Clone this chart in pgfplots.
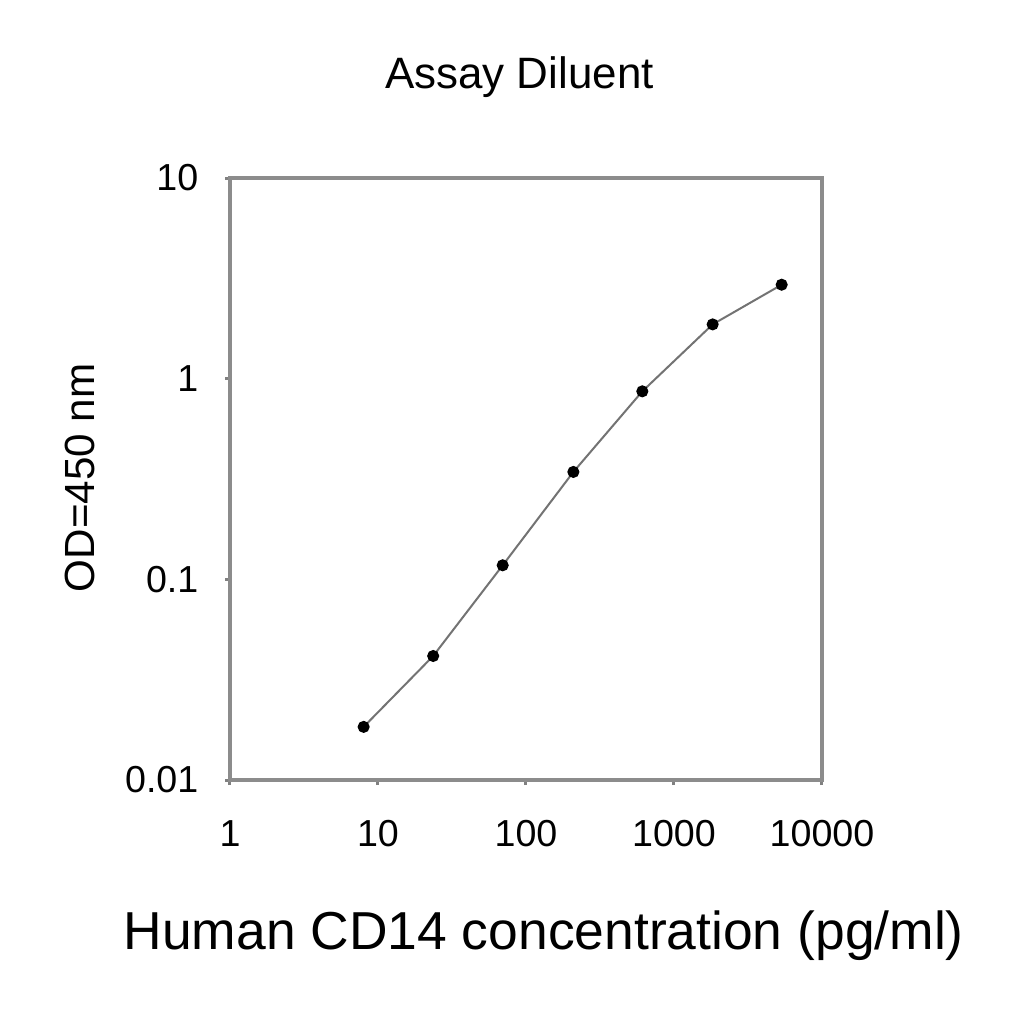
\documentclass[border=0pt]{standalone}
\usepackage{pgfplots}
\pgfplotsset{compat=1.18}
\usepackage{fontspec}
\setmainfont{Liberation Sans}
\begin{document}
\begin{tikzpicture}
\path[use as bounding box] (-23mm,-24.4mm) rectangle ++(102.4mm,102.4mm);
\begin{axis}[
at={(0,0)},
anchor=south west,
scale only axis,
width=59.2mm,
height=60.2mm,
xmode=log,
ymode=log,
log basis x={10},
log basis y={10},
xmin=1, xmax=10000,
ymin=0.01, ymax=10,
xtick={1,10,100,1000,10000},
ytick={0.01,0.1,1,10},
xticklabels={1,10,100,1000,10000},
yticklabels={0.01,0.1,1,10},
minor tick num=0,
subtickwidth=0pt,
tick align=outside,
major tick length=0.5mm,
xtick pos=bottom,
ytick pos=left,
tick style={black!50, line width=0.3mm},
axis line style={black!45, line width=0.35mm},
/pgf/number format/assume math mode=true,
ticklabel style={font=\fontsize{10.7pt}{12pt}\selectfont, inner sep=0pt},
xticklabel style={anchor=center, yshift=-4.9mm},
yticklabel style={anchor=east, xshift=-2.6mm},
title={Assay Diluent},
title style={at={(axis description cs:0.489,1.113)}, anchor=base, inner sep=0pt,
  font=\fontsize{12.5pt}{14pt}\selectfont},
xlabel={Human CD14 concentration (pg/ml)},
xlabel style={at={(axis description cs:0.530,-0.282)}, anchor=base, inner sep=0pt,
  font=\fontsize{15.2pt}{18pt}\selectfont},
ylabel={OD=450 nm},
ylabel style={at={(axis description cs:-0.253,0.502)}, anchor=center, rotate=0, inner sep=0pt,
  font=\fontsize{12pt}{14pt}\selectfont},
]
\addplot [
color=black!55,
line width=0.2mm,
mark=*,
mark size=0.5mm,
mark options={fill=black, draw=black}
] coordinates {
(8.0,0.0184)
(23.6,0.0415)
(69.6,0.1175)
(209,0.343)
(611,0.865)
(1825,1.865)
(5340,2.94)
};
\end{axis}
\end{tikzpicture}
\end{document}
